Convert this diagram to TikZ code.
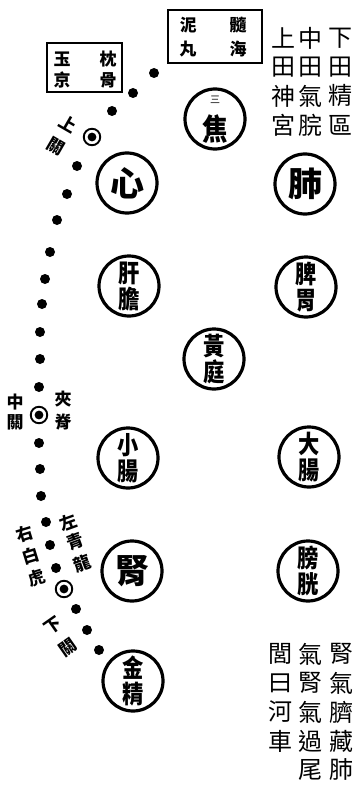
\documentclass[tikz,border=0pt]{standalone}
\usepackage{fontspec}
\newfontfamily\cjk{Noto Sans CJK TC}
\newcommand\pr[2]{\scalebox{0.85}[1]{#1}\\\scalebox{0.85}[1]{#2}}
\begin{document}
\begin{tikzpicture}[x=1pt,y=-1pt,
  organ/.style={circle,draw,line width=3.2pt,minimum size=60pt,inner sep=0pt,font=\cjk},
  dotnode/.style={circle,fill,minimum size=10pt,inner sep=0pt},
  target/.style={circle,draw,line width=1.9pt,minimum size=16.5pt,inner sep=0pt,
    path picture={\fill (path picture bounding box.center) circle (4.4pt);}},
  boxnode/.style={draw,line width=2.8pt,inner sep=0pt},
  boxchar/.style={font=\cjk\bfseries\fontsize{17}{17}\selectfont,inner sep=0pt},
  colchar/.style={font=\cjk\fontsize{24}{24}\selectfont,inner sep=0pt},
  lab/.style={font=\cjk\bfseries\fontsize{17}{17}\selectfont,inner sep=0pt},
  pair/.style={font=\cjk\bfseries\fontsize{25}{26}\selectfont,align=center},
  single/.style={font=\cjk\bfseries\fontsize{34}{34}\selectfont}
]
\useasboundingbox (0,0) rectangle (357,797);
\fill[white] (0,0) rectangle (357,797);

% boxes
\node[boxnode,minimum width=75pt,minimum height=49pt] (b1) at (84.5,67.5) {};
\node[boxchar] (b1a) at (62,59) {玉};
\node[boxchar] (b1b) at (62,80) {京};
\node[boxchar] (b1c) at (108,59) {枕};
\node[boxchar] (b1d) at (108,80) {骨};
\node[boxnode,minimum width=94pt,minimum height=53pt] (b2) at (215,36.5) {};
\node[boxchar] (b2a) at (188,25) {泥};
\node[boxchar] (b2b) at (188,49) {丸};
\node[boxchar] (b2c) at (238,25) {髓};
\node[boxchar] (b2d) at (238,49) {海};

% top right columns
\foreach \ch [count=\i] in {上,田,神,宮} {\node[colchar] (ta\i) at (283,{9+29*\i}) {\ch};}
\foreach \ch [count=\i] in {中,田,氣,脘} {\node[colchar] (tb\i) at (310,{9+29*\i}) {\ch};}
\foreach \ch [count=\i] in {下,田,精,區} {\node[colchar] (tc\i) at (340,{9+29*\i}) {\ch};}

% bottom right columns
\foreach \ch [count=\i] in {閭,曰,河,車} {\node[colchar] (ba\i) at (280,{625+29*\i}) {\ch};}
\foreach \ch [count=\i] in {氣,腎,氣,過,尾} {\node[colchar] (bb\i) at (310,{625+29*\i}) {\ch};}
\foreach \ch [count=\i] in {腎,氣,臍,藏,肺} {\node[colchar] (bc\i) at (341,{625+29*\i}) {\ch};}

% organs
\node[organ] (sanjiao) at (215,119) {};
\node[font=\cjk\fontsize{10}{10}\selectfont] (sj1) at (215,100) {三};
\node[font=\cjk\bfseries\fontsize{30}{30}\selectfont] (sj2) at (215,129) {\scalebox{0.85}[1]{焦}};
\node[organ,single] (xin) at (127,183) {心};
\node[organ,single] (fei) at (305,184) {肺};
\node[organ,pair] (gandan) at (129,286) {\pr{肝}{膽}};
\node[organ,pair] (piwei) at (306,287) {\pr{脾}{胃}};
\node[organ,pair] (huangting) at (214,359) {\pr{黃}{庭}};
\node[organ,pair] (xiaochang) at (128,458) {\pr{小}{腸}};
\node[organ,pair] (dachang) at (309,457) {\pr{大}{腸}};
\node[organ,single] (shen) at (132,571) {腎};
\node[organ,pair] (pangguang) at (308,571) {\pr{膀}{胱}};
\node[organ,pair] (jinjing) at (133,681) {\pr{金}{精}};

% dots
\foreach \p [count=\i] in {(154,73),(133,93),(112,111),(77,166),(67,194),(57,220),(50,252),(45,279),(42,304),(40,332),(40,359),(39,387),(39,443),(40,469),(41,496),(46,522),(50,545),(56,568),(76,609),(87,630),(99,650)}
  {\node[dotnode] (d\i) at \p {};}
\node[target] (shangguan) at (92,137) {};
\node[target] (zhongguan) at (39,415) {};
\node[target] (xiaguan) at (64,589) {};

% labels
\node[lab,rotate=-30] (l1a) at (68,124) {上};
\node[lab,rotate=-30] (l1b) at (56,146) {關};
\node[lab] (l2a) at (15,402) {中};
\node[lab] (l2b) at (15,422) {關};
\node[lab] (l3a) at (63,399) {夾};
\node[lab] (l3b) at (63,422) {脊};
\node[lab,rotate=20] (l4a) at (68,522) {左};
\node[lab,rotate=20] (l4b) at (75,542) {青};
\node[lab,rotate=20] (l4c) at (82,563) {龍};
\node[lab,rotate=17] (l5a) at (25,534) {右};
\node[lab,rotate=17] (l5b) at (31,556) {白};
\node[lab,rotate=17] (l5c) at (37,578) {虎};
\node[lab,rotate=35] (l6a) at (53,626) {下};
\node[lab,rotate=35] (l6b) at (68,648) {關};
\end{tikzpicture}
\end{document}
